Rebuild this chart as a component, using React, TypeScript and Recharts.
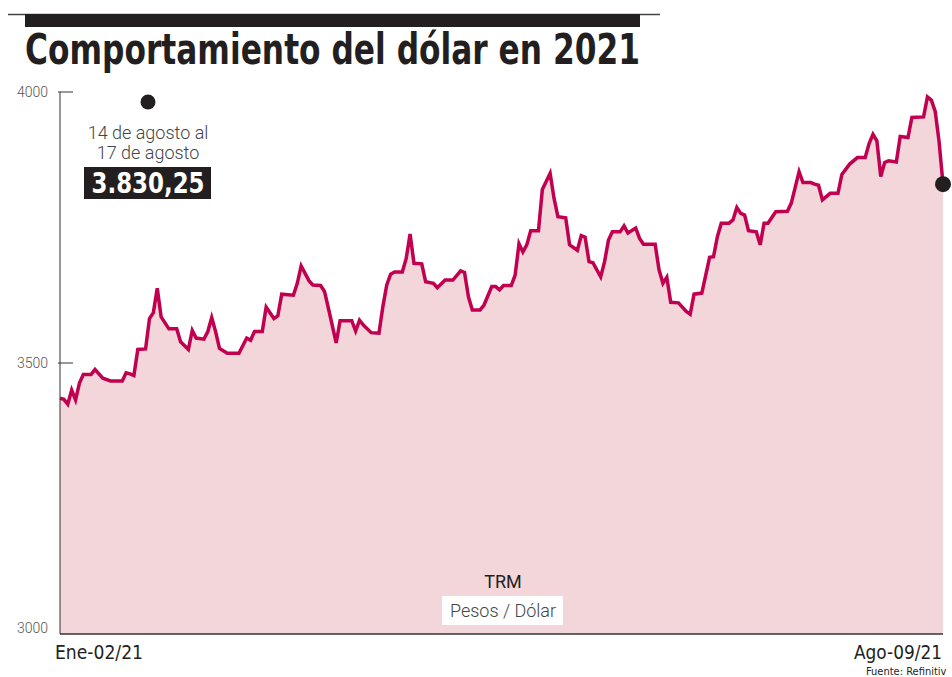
import { AreaChart, Area, XAxis, YAxis, ReferenceDot } from "recharts"

// días calendario desde el 2 de enero
const dias = [
  0, 1, 2, 3, 4, 5, 6, 8, 9, 11,
  13, 16, 17, 18, 19, 20, 22, 23, 24, 25,
  26, 28, 30, 31, 33, 34, 35, 37, 38, 39,
  40, 41, 43, 46, 48, 49, 50, 52, 53, 55,
  56, 57, 60, 61, 62, 64, 65, 67, 68, 69,
  71, 72, 75, 76, 77, 78, 80, 82, 83, 84,
  85, 86, 88, 89, 90, 91, 93, 94, 96, 97,
  99, 101, 103, 104, 105, 106, 108, 109, 111, 112,
  113, 114, 116, 117, 118, 119, 120, 121, 123, 124,
  126, 127, 128, 130, 131, 133, 134, 135, 136, 137,
  139, 140, 141, 142, 144, 145, 146, 148, 149, 150,
  153, 154, 155, 156, 157, 159, 161, 162, 163, 165,
  167, 168, 169, 170, 172, 173, 174, 175, 176, 177,
  179, 180, 181, 182, 184, 187, 188, 190, 191, 193,
  194, 195, 196, 198, 200, 201, 203, 205, 207, 208,
  209, 210, 211, 212, 213, 215, 216, 218, 219, 222,
  223, 224, 225, 226, 227,
]

// TRM pesos por dólar
const trm = [
  3435, 3433, 3424, 3450, 3432, 3463, 3479, 3479, 3488, 3472,
  3467, 3467, 3482, 3480, 3477, 3525, 3526, 3582, 3593, 3638,
  3585, 3563, 3563, 3539, 3525, 3560, 3546, 3544, 3558, 3584,
  3558, 3527, 3518, 3518, 3546, 3542, 3558, 3558, 3603, 3582,
  3587, 3627, 3625, 3647, 3679, 3652, 3644, 3643, 3632, 3601,
  3537, 3578, 3578, 3559, 3579, 3570, 3556, 3555, 3604, 3644,
  3664, 3668, 3668, 3693, 3738, 3684, 3683, 3650, 3647, 3639,
  3653, 3653, 3670, 3667, 3622, 3598, 3598, 3607, 3641, 3641,
  3635, 3643, 3643, 3662, 3720, 3705, 3718, 3744, 3744, 3820,
  3850, 3804, 3770, 3768, 3718, 3708, 3735, 3732, 3687, 3685,
  3659, 3687, 3727, 3742, 3742, 3753, 3740, 3749, 3730, 3719,
  3719, 3672, 3647, 3658, 3612, 3611, 3595, 3590, 3627, 3629,
  3695, 3696, 3733, 3758, 3758, 3764, 3787, 3776, 3773, 3744,
  3742, 3718, 3758, 3758, 3779, 3780, 3795, 3853, 3833, 3833,
  3830, 3828, 3801, 3813, 3813, 3848, 3867, 3879, 3879, 3905,
  3922, 3910, 3844, 3870, 3873, 3871, 3918, 3916, 3953, 3954,
  3991, 3985, 3964, 3908, 3830,
]

const yTicks = [3000, 3500, 4000]
const xTicks = [0, 227]
const xLabels = ["Ene-02/21", "Ago-09/21"]

const data = dias.map((d, i) => ({ dia: d, trm: trm[i] }))
const last = data[data.length - 1]

const condensed = "'Liberation Sans Narrow', 'DejaVu Sans Condensed', 'Roboto', sans-serif"
const light = "'Roboto', 'Open Sans', sans-serif"

function YTick({ y, payload }: any) {
  const v = payload.value
  return (
    <g>
      {v !== 3000 && <line x1={58} x2={73} y1={y} y2={y} stroke="#333" strokeWidth={1} />}
      <text
        x={48}
        y={v === 3000 ? y - 6 : y}
        textAnchor="end"
        dominantBaseline="central"
        fontFamily={light}
        fontWeight={300}
        fontSize={14}
        fill="#555"
      >
        {v}
      </text>
    </g>
  )
}

function XTick({ x, payload, index }: any) {
  const first = index === 0
  return (
    <text
      x={first ? x - 5 : x + 2}
      y={659}
      textAnchor={first ? "start" : "end"}
      fontFamily={condensed}
      fontWeight={500}
      fontSize={20}
      fill="#231f20"
      textLength={88}
      lengthAdjust="spacingAndGlyphs"
    >
      {xLabels[xTicks.indexOf(payload.value)]}
    </text>
  )
}

export default function App() {
  return (
    <div style={{ position: "absolute", left: 0, top: 0, width: 952, height: 677, background: "#fff" }}>
      <AreaChart width={952} height={677} data={data} margin={{ top: 92, right: 9, bottom: 0, left: 0 }}>
        <XAxis
          type="number"
          dataKey="dia"
          domain={[0, 227]}
          ticks={xTicks}
          height={43}
          axisLine={{ stroke: "#333", strokeWidth: 1.5 }}
          tickLine={false}
          tick={<XTick />}
        />
        <YAxis
          domain={[3000, 4000]}
          ticks={yTicks}
          width={60}
          axisLine={{ stroke: "#333", strokeWidth: 1 }}
          tickLine={false}
          tick={<YTick />}
        />
        <Area
          type="linear"
          dataKey="trm"
          stroke="#c10050"
          strokeWidth={3.5}
          fill="#f2d6d9"
          fillOpacity={1}
          dot={false}
          activeDot={false}
          isAnimationActive={false}
        />
        <ReferenceDot x={last.dia} y={last.trm} r={8} fill="#231f20" stroke="none" ifOverflow="visible" />
      </AreaChart>

      <svg
        width={952}
        height={677}
        style={{ position: "absolute", left: 0, top: 0, pointerEvents: "none" }}
      >
        <line x1={8} x2={660} y1={14.5} y2={14.5} stroke="#444" strokeWidth={1.5} />
        <rect x={25} y={14} width={615} height={13} fill="#231f20" />
        <text
          x={25}
          y={64}
          fontFamily={condensed}
          fontWeight={700}
          fontSize={42}
          fill="#231f20"
          textLength={615}
          lengthAdjust="spacingAndGlyphs"
        >
          Comportamiento del dólar en 2021
        </text>

        <circle cx={148} cy={102} r={7.5} fill="#231f20" />
        <text x={148} y={139} textAnchor="middle" fontFamily={light} fontWeight={300} fontSize={18} fill="#444">
          14 de agosto al
        </text>
        <text x={148} y={159} textAnchor="middle" fontFamily={light} fontWeight={300} fontSize={18} fill="#444">
          17 de agosto
        </text>
        <rect x={84} y={167} width={127} height={32} fill="#231f20" />
        <text
          x={148}
          y={193}
          textAnchor="middle"
          fontFamily={condensed}
          fontWeight={700}
          fontSize={28}
          fill="#fff"
          textLength={113}
          lengthAdjust="spacingAndGlyphs"
        >
          3.830,25
        </text>

        <text x={503} y={588} textAnchor="middle" fontFamily={light} fontWeight={400} fontSize={18} fill="#231f20">
          TRM
        </text>
        <rect x={442} y={596} width={121} height={29} fill="#fff" />
        <text x={503} y={617} textAnchor="middle" fontFamily={light} fontWeight={300} fontSize={18} fill="#444">
          Pesos / Dólar
        </text>

        <text x={866} y={675} fontFamily={condensed} fontWeight={500} fontSize={11} fill="#231f20">
          Fuente: Refinitiv
        </text>
      </svg>
    </div>
  )
}
